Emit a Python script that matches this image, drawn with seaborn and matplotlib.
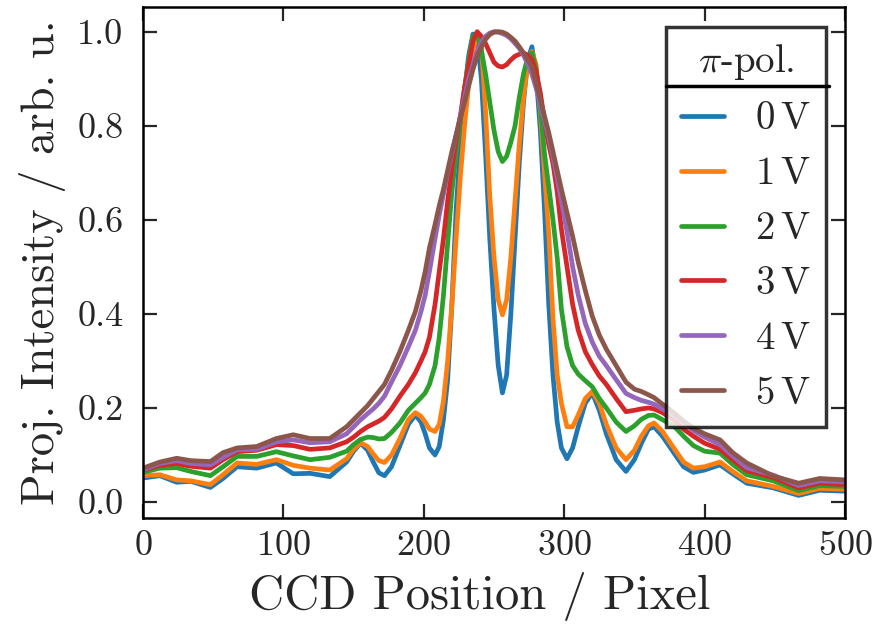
import matplotlib
matplotlib.use("Agg")
import matplotlib.pyplot as plt
from matplotlib.lines import Line2D
from matplotlib.ticker import FormatStrFormatter
import pandas as pd
import seaborn as sns

# CCD pixel positions (shared by all traces)
pixel = [0, 12, 24, 34, 48, 57, 67, 81, 95, 107, 119, 133,
         145, 150, 155, 160, 164, 168, 172, 177, 183, 189,
         194, 198, 201, 204, 208, 211, 214, 217, 220, 223,
         226, 229, 232, 235, 238, 241, 244, 247, 250, 253,
         256, 259, 262, 265, 268, 271, 274, 277, 280, 283,
         286, 289, 292, 295, 298, 302, 306, 310, 315, 320,
         325, 330, 337, 344, 350, 355, 360, 364, 370, 378,
         385, 392, 400, 411, 420, 430, 449, 467, 482, 500]

# projected intensity for each applied voltage (normalised)
int_0v = [0.051, 0.056, 0.042, 0.044, 0.031, 0.050, 0.075, 0.072, 0.083, 0.060, 0.061, 0.054,
          0.085, 0.108, 0.125, 0.110, 0.085, 0.062, 0.056, 0.075, 0.120, 0.165,
          0.185, 0.170, 0.145, 0.115, 0.100, 0.118, 0.175, 0.260, 0.420, 0.620,
          0.760, 0.870, 0.950, 0.995, 0.990, 0.900, 0.740, 0.560, 0.410, 0.290,
          0.232, 0.270, 0.400, 0.560, 0.720, 0.850, 0.940, 0.968, 0.910, 0.790,
          0.620, 0.420, 0.270, 0.170, 0.115, 0.092, 0.115, 0.160, 0.210, 0.232,
          0.195, 0.145, 0.090, 0.065, 0.090, 0.125, 0.155, 0.160, 0.140, 0.105,
          0.075, 0.063, 0.068, 0.079, 0.060, 0.040, 0.030, 0.014, 0.025, 0.023]
int_1v = [0.056, 0.058, 0.047, 0.045, 0.037, 0.058, 0.083, 0.080, 0.090, 0.078, 0.072, 0.068,
          0.092, 0.112, 0.126, 0.118, 0.102, 0.088, 0.084, 0.100, 0.135, 0.175,
          0.190, 0.182, 0.170, 0.155, 0.150, 0.165, 0.215, 0.300, 0.420, 0.560,
          0.690, 0.800, 0.890, 0.960, 0.995, 0.970, 0.830, 0.650, 0.520, 0.430,
          0.398, 0.430, 0.520, 0.640, 0.760, 0.860, 0.930, 0.958, 0.930, 0.830,
          0.700, 0.570, 0.390, 0.270, 0.210, 0.160, 0.160, 0.185, 0.220, 0.235,
          0.210, 0.165, 0.115, 0.090, 0.110, 0.140, 0.162, 0.168, 0.150, 0.115,
          0.085, 0.072, 0.075, 0.085, 0.065, 0.045, 0.033, 0.018, 0.029, 0.027]
int_2v = [0.063, 0.072, 0.073, 0.065, 0.056, 0.075, 0.097, 0.097, 0.107, 0.098, 0.090, 0.095,
          0.108, 0.122, 0.133, 0.138, 0.137, 0.134, 0.135, 0.148, 0.168, 0.195,
          0.210, 0.222, 0.232, 0.250, 0.290, 0.350, 0.440, 0.550, 0.660, 0.740,
          0.810, 0.880, 0.940, 0.990, 0.995, 0.960, 0.910, 0.850, 0.790, 0.745,
          0.724, 0.735, 0.765, 0.800, 0.860, 0.910, 0.945, 0.955, 0.920, 0.840,
          0.740, 0.670, 0.600, 0.520, 0.410, 0.330, 0.290, 0.272, 0.258, 0.245,
          0.220, 0.200, 0.170, 0.150, 0.162, 0.176, 0.184, 0.185, 0.175, 0.162,
          0.140, 0.120, 0.108, 0.104, 0.080, 0.058, 0.045, 0.024, 0.035, 0.033]
int_3v = [0.068, 0.078, 0.082, 0.076, 0.072, 0.090, 0.107, 0.110, 0.122, 0.120, 0.112, 0.115,
          0.128, 0.138, 0.150, 0.160, 0.166, 0.172, 0.180, 0.198, 0.225, 0.250,
          0.275, 0.300, 0.320, 0.350, 0.420, 0.490, 0.560, 0.640, 0.710, 0.770,
          0.820, 0.880, 0.930, 0.980, 1.000, 0.990, 0.975, 0.955, 0.935, 0.927,
          0.925, 0.930, 0.940, 0.948, 0.952, 0.955, 0.950, 0.940, 0.915, 0.870,
          0.810, 0.760, 0.720, 0.660, 0.580, 0.500, 0.420, 0.365, 0.320, 0.292,
          0.268, 0.250, 0.220, 0.192, 0.195, 0.198, 0.200, 0.198, 0.190, 0.175,
          0.155, 0.140, 0.125, 0.112, 0.090, 0.067, 0.052, 0.030, 0.040, 0.037]
int_4v = [0.069, 0.082, 0.088, 0.082, 0.079, 0.095, 0.111, 0.112, 0.128, 0.132, 0.126, 0.128,
          0.145, 0.160, 0.175, 0.188, 0.198, 0.210, 0.225, 0.255, 0.290, 0.330,
          0.365, 0.405, 0.440, 0.490, 0.560, 0.610, 0.655, 0.700, 0.740, 0.780,
          0.820, 0.860, 0.900, 0.930, 0.958, 0.978, 0.990, 0.997, 1.000, 0.999,
          0.996, 0.992, 0.985, 0.975, 0.965, 0.950, 0.932, 0.910, 0.880, 0.845,
          0.810, 0.775, 0.735, 0.690, 0.640, 0.575, 0.500, 0.440, 0.380, 0.340,
          0.310, 0.290, 0.260, 0.231, 0.222, 0.216, 0.212, 0.208, 0.198, 0.185,
          0.170, 0.152, 0.138, 0.122, 0.098, 0.073, 0.057, 0.035, 0.045, 0.043]
int_5v = [0.072, 0.085, 0.093, 0.088, 0.086, 0.105, 0.115, 0.118, 0.135, 0.143, 0.135, 0.135,
          0.160, 0.175, 0.190, 0.205, 0.220, 0.235, 0.250, 0.280, 0.320, 0.365,
          0.405, 0.450, 0.490, 0.540, 0.590, 0.630, 0.665, 0.705, 0.745, 0.780,
          0.815, 0.850, 0.885, 0.920, 0.948, 0.968, 0.984, 0.994, 0.999, 1.000,
          0.999, 0.995, 0.988, 0.980, 0.968, 0.955, 0.940, 0.925, 0.890, 0.855,
          0.820, 0.785, 0.745, 0.705, 0.665, 0.615, 0.565, 0.510, 0.450, 0.395,
          0.355, 0.325, 0.290, 0.255, 0.240, 0.235, 0.228, 0.222, 0.208, 0.190,
          0.172, 0.157, 0.145, 0.132, 0.105, 0.083, 0.055, 0.040, 0.050, 0.047]

voltage_labels = [r"$0\,\mathrm{V}$", r"$1\,\mathrm{V}$", r"$2\,\mathrm{V}$",
                  r"$3\,\mathrm{V}$", r"$4\,\mathrm{V}$", r"$5\,\mathrm{V}$"]
series = [int_0v, int_1v, int_2v, int_3v, int_4v, int_5v]
colors = ["#1f77b4", "#ff7f0e", "#2ca02c", "#d62728", "#9467bd", "#8c564b"]

x_ticks = [0, 100, 200, 300, 400, 500]
y_ticks = [0.0, 0.2, 0.4, 0.6, 0.8, 1.0]

sns.set_style("ticks")
plt.rcParams.update({
    "font.family": ["cmr10", "DejaVu Serif"],
    "mathtext.fontset": "cm",
    "axes.formatter.use_mathtext": True,
    "axes.unicode_minus": False,
})

df = pd.concat(
    [pd.DataFrame({"pixel": pixel, "intensity": vals, "voltage": lab})
     for lab, vals in zip(voltage_labels, series)],
    ignore_index=True,
)

fig = plt.figure(figsize=(8.8, 6.25), dpi=100)
ax = fig.add_axes([143 / 880, 1 - 518 / 625, 702 / 880, 511 / 625])

sns.lineplot(data=df, x="pixel", y="intensity", hue="voltage",
             hue_order=voltage_labels, palette=colors, linewidth=3.4,
             estimator=None, sort=True, ax=ax)
for ln in ax.lines:
    ln.set_solid_joinstyle("round")
    ln.set_solid_capstyle("round")

ax.set_xlim(0, 500)
ax.set_ylim(-0.034, 1.0525)
ax.set_xticks(x_ticks)
ax.set_yticks(y_ticks)
ax.yaxis.set_major_formatter(FormatStrFormatter("%.1f"))
ax.tick_params(direction="in", length=10, width=1.6, top=True, right=True,
               labelsize=26)
ax.tick_params(axis="x", pad=9)
ax.tick_params(axis="y", pad=14)
for sp in ax.spines.values():
    sp.set_linewidth(1.8)
    sp.set_color("black")

ax.set_xlabel("CCD Position / Pixel", fontsize=35, labelpad=10)
ax.set_ylabel("Proj. Intensity / arb. u.", fontsize=33.5, labelpad=8)
ax.xaxis.set_label_coords((480 - 143) / 702, -0.105)

handles, labels = ax.get_legend_handles_labels()
leg = ax.legend(handles, labels, title=r"$\pi$-pol.", loc="upper right",
                bbox_to_anchor=(0.973, 0.961), borderaxespad=0,
                fontsize=28, title_fontsize=28, frameon=True, fancybox=False,
                edgecolor="black", framealpha=0.8, handlelength=1.1,
                handletextpad=0.8, labelspacing=0.49, borderpad=0.4)
leg.get_frame().set_linewidth(2.5)
for h in leg.legend_handles:
    h.set_linewidth(3.4)

# rule separating the legend title from its entries
fig.canvas.draw()
renderer = fig.canvas.get_renderer()
tb = leg.get_title().get_window_extent(renderer)
fb = leg.get_frame().get_window_extent(renderer)
y_sep = tb.y0 - 4
inv = fig.transFigure.inverted()
(x0f, yf), (x1f, _) = inv.transform([(fb.x0, y_sep), (fb.x1 + 3, y_sep)])
fig.add_artist(Line2D([x0f, x1f], [yf, yf], transform=fig.transFigure,
                      color="black", linewidth=2.5))

fig.savefig("out.png", dpi=100)
